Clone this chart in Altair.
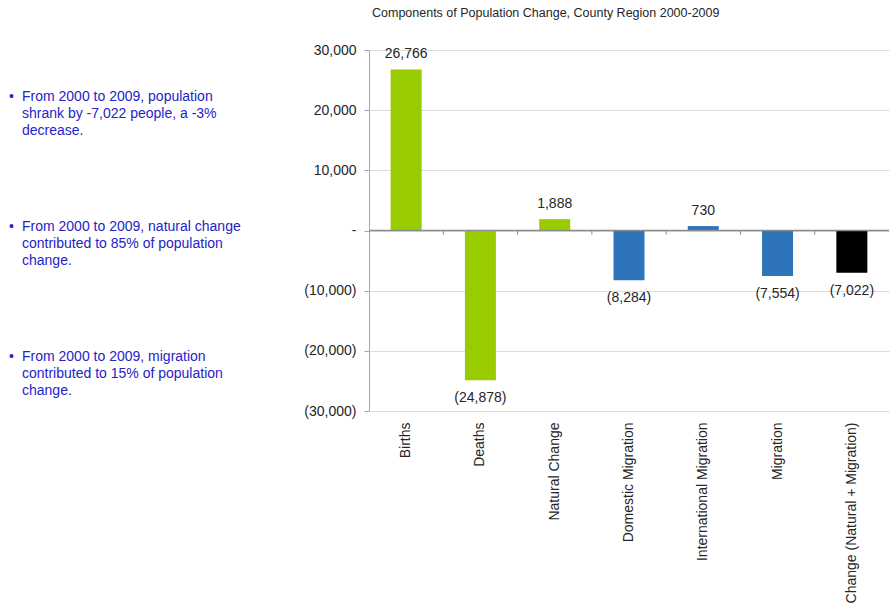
import altair as alt
import pandas as pd

categories = ["Births", "Deaths", "Natural Change", "Domestic Migration",
              "International Migration", "Migration", "Change (Natural + Migration)"]
values = [26766, -24878, 1888, -8284, 730, -7554, -7022]
groups = ["natural", "natural", "natural", "migration", "migration", "migration", "total"]
y_ticks = [-30000, -20000, -10000, 0, 10000, 20000, 30000]

bullets = [
    "From 2000 to 2009, population\nshrank by -7,022 people, a -3%\ndecrease.",
    "From 2000 to 2009, natural change\ncontributed to 85% of population\nchange.",
    "From 2000 to 2009, migration\ncontributed to 15% of population\nchange.",
]

FONT = "Liberation Sans"
TEXT_COLOR = "#262626"

df = pd.DataFrame({"cat": categories, "value": values, "group": groups})
df["idx"] = range(len(df))
bdf = pd.DataFrame({"i": range(len(bullets)), "text": bullets})

W, H = 520, 361

x_enc = alt.X("cat:N", sort=categories,
              scale=alt.Scale(paddingInner=0, paddingOuter=0),
              axis=alt.Axis(title=None, labelAngle=-90, labelAlign="right",
                            labelBaseline="middle", labelFontSize=14,
                            labelFont=FONT, labelColor=TEXT_COLOR,
                            ticks=False, domain=False, labelPadding=11,
                            labelLimit=300))

y_scale = alt.Scale(domain=[-30000, 30000], nice=False, zero=True)
label_expr = ("datum.value == 0 ? '-\u00a0\u00a0\u00a0' : (datum.value < 0 ? '(' + format(-datum.value, ',') + ')'"
              " : format(datum.value, ',') + '\u00a0')")

base = alt.Chart(df).encode(x=x_enc)

bars = base.mark_bar(size=31).encode(
    y=alt.Y("value:Q", scale=y_scale,
            axis=alt.Axis(title=None, values=y_ticks, labelExpr=label_expr,
                          labelFontSize=14, labelFont=FONT, labelColor=TEXT_COLOR,
                          grid=True, gridColor="#dcdcdc", domainColor="#a6a6a6",
                          tickColor="#a6a6a6", tickSize=5, labelPadding=8)),
    color=alt.Color("group:N",
                    scale=alt.Scale(domain=["natural", "migration", "total"],
                                    range=["#99cc00", "#2e74b8", "#000000"]),
                    legend=None),
)

zero_line = alt.Chart(df).mark_rule(color="#8c8c8c", strokeWidth=1.5).encode(
    y=alt.datum(0, scale=y_scale)
).transform_filter("datum.idx == 0")

band_ticks = alt.Chart(df).mark_rule(color="#8c8c8c").encode(
    x=alt.X("cat:N", sort=categories, bandPosition=0),
    y=alt.datum(0),
    y2=alt.datum(-700),
).transform_filter("datum.idx > 0")

fmt = ("datum.value < 0 ? '(' + format(-datum.value, ',') + ')' : format(datum.value, ',')")

pos_labels = base.mark_text(baseline="bottom", dy=-8, fontSize=14, font=FONT,
                            color=TEXT_COLOR).encode(
    y="value:Q", text="label:N"
).transform_calculate(label=fmt).transform_filter("datum.value >= 0")

neg_labels = base.mark_text(baseline="top", dy=11, fontSize=14, font=FONT,
                            color=TEXT_COLOR).encode(
    y="value:Q", text="label:N"
).transform_calculate(label=fmt).transform_filter("datum.value < 0")

right = alt.layer(bars, zero_line, band_ticks, pos_labels, neg_labels).properties(
    width=W, height=H,
    title=alt.TitleParams("Components of Population Change, County Region 2000-2009",
                          anchor="start", frame="group", fontSize=12.5, font=FONT,
                          fontWeight="normal", color=TEXT_COLOR, offset=24, dx=3),
)

ybul = alt.Y("i:O", axis=None, scale=alt.Scale(type="point", padding=0.3077))
bullet_dots = alt.Chart(bdf).mark_text(text="\u2022", align="left", baseline="top",
                                       fontSize=14, font=FONT, color="#2424c8").encode(
    x=alt.value(9), y=ybul)
bullet_text = alt.Chart(bdf).mark_text(align="left", baseline="top", fontSize=14,
                                       font=FONT, color="#2424c8", lineBreak="\n",
                                       lineHeight=17).encode(
    x=alt.value(22), y=ybul, text="text:N")
left = alt.layer(bullet_dots, bullet_text).properties(width=250, height=340)

chart = alt.hconcat(left, right, spacing=53).properties(
    padding={"left": 0, "top": 6, "right": 0, "bottom": 0}
).configure_view(stroke=None)

chart.save("out.html", embed_options={"renderer": "svg", "actions": False})
